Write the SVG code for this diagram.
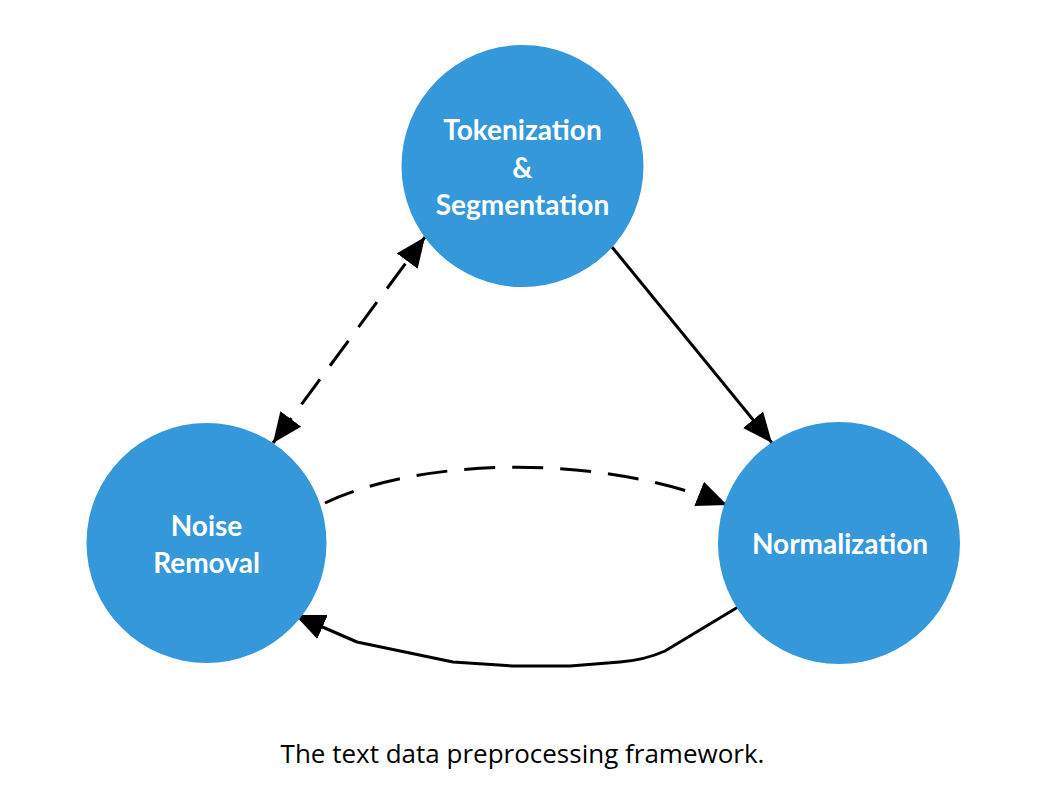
<svg xmlns="http://www.w3.org/2000/svg" width="1064" height="788" viewBox="0 0 1064 788">
  <style>
    .node { fill: #3498db; }
    .label { font-family: Lato, "Open Sans", sans-serif; font-weight: bold; font-size: 28px; fill: #ffffff; text-anchor: middle; }
    .edge { fill: none; stroke: #000000; stroke-width: 3; stroke-linejoin: round; }
    .dashed { stroke-dasharray: 31 17; }
    .caption { font-family: "Open Sans", "Liberation Sans", sans-serif; font-size: 26px; fill: #000000; text-anchor: middle; }
  </style>
  <defs>
    <marker id="arrow" viewBox="0 0 30 26" refX="30" refY="13" markerWidth="30" markerHeight="26" markerUnits="userSpaceOnUse" orient="auto-start-reverse">
      <path d="M0,0 L30,13 L0,26 z" fill="#000000"/>
    </marker>
  </defs>
  <rect width="1064" height="788" fill="#ffffff"/>

  <g id="connectors">
    <path class="edge dashed" d="M273,443 L425,237" marker-start="url(#arrow)" marker-end="url(#arrow)"/>
    <path class="edge" d="M612,247 L772,443" marker-end="url(#arrow)"/>
    <path class="edge dashed" d="M325,503 C415,460 590,450 727,505" marker-end="url(#arrow)"/>
    <path class="edge" d="M738,607 L665,651 Q645,660 620,662 L570,666 L513,666 L453,662 L357,642 L295,615" marker-end="url(#arrow)"/>
  </g>

  <g id="node-tokenization">
    <circle class="node" cx="522.5" cy="166" r="121"/>
    <text class="label" x="522.5" y="140">Tokenization</text>
    <text class="label" x="522.5" y="178">&amp;</text>
    <text class="label" x="522.5" y="215">Segmentation</text>
  </g>

  <g id="node-noise">
    <circle class="node" cx="206.5" cy="543" r="120"/>
    <text class="label" x="206.5" y="536">Noise</text>
    <text class="label" x="206.5" y="573">Removal</text>
  </g>

  <g id="node-normalization">
    <circle class="node" cx="839" cy="543" r="121"/>
    <text class="label" x="840" y="554">Normalization</text>
  </g>

  <text class="caption" x="522.5" y="763">The text data preprocessing framework.</text>
</svg>
